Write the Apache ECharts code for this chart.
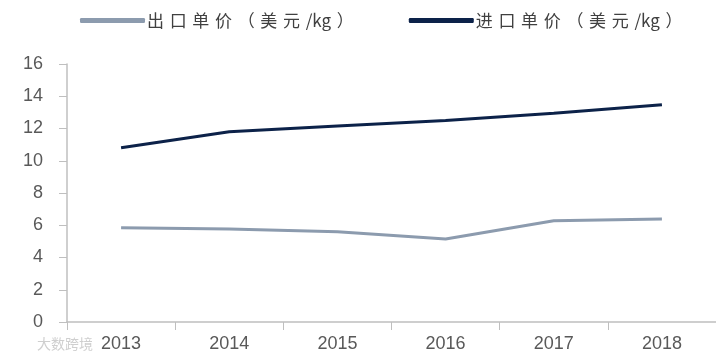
<!DOCTYPE html>
<html>
<head>
<meta charset="utf-8">
<script src="https://cdn.jsdelivr.net/npm/echarts@6/dist/echarts.min.js"></script>
<style>html,body{margin:0;padding:0;background:#fff}#c{width:716px;height:358px}</style>
</head>
<body>
<div id="c"></div>
<script>
var categories = ['2013', '2014', '2015', '2016', '2017', '2018'];
var exportPrice = [5.84, 5.77, 5.6, 5.15, 6.28, 6.38];
var importPrice = [10.8, 11.8, 12.15, 12.5, 12.95, 13.48];
var yTicks = [0, 2, 4, 6, 8, 10, 12, 14, 16];
var seriesNames = ['出口单价（美元/kg）', '进口单价（美元/kg）'];

function spaced(name) {
  var out = '';
  var chars = name.split('');
  for (var i = 0; i < chars.length; i++) {
    out += chars[i];
    var next = chars[i + 1];
    if (next === undefined) break;
    var asciiPair = /[A-Za-z\/]/.test(chars[i]) && /[A-Za-z]/.test(next);
    if (!asciiPair) out += '\u2004';
  }
  return out;
}

var chart = echarts.init(document.getElementById('c'));
chart.setOption({
  animation: false,
  backgroundColor: '#fff',
  legend: {
    top: 7,
    left: 75,
    itemWidth: 65,
    itemHeight: 5,
    itemGap: 55,
    icon: 'roundRect',
    formatter: spaced,
    textStyle: { fontFamily: 'Noto Sans CJK SC', fontSize: 17, color: '#404040', padding: [0, 0, 0, -3] },
    data: seriesNames
  },
  grid: { left: 67, right: -10, top: 64, bottom: 36 },
  xAxis: {
    type: 'category',
    data: categories,
    boundaryGap: true,
    axisLine: { lineStyle: { color: '#bfbfbf', width: 1.5 } },
    axisTick: { show: true, length: 8, lineStyle: { color: '#bfbfbf' } },
    axisLabel: { color: '#595959', fontSize: 18, fontFamily: 'Liberation Sans', margin: 13 }
  },
  yAxis: {
    type: 'value',
    min: yTicks[0],
    max: yTicks[yTicks.length - 1],
    interval: 2,
    splitLine: { show: false },
    axisLine: { show: true, lineStyle: { color: '#bfbfbf', width: 1.5 } },
    axisTick: { show: true, length: 8, lineStyle: { color: '#bfbfbf' } },
    axisLabel: { color: '#595959', fontSize: 18, fontFamily: 'Liberation Sans', margin: 24 }
  },
  graphic: [{
    type: 'text', left: 37, top: 337,
    style: { text: '大数跨境', fill: '#cfcfcf', font: '14px "Noto Sans CJK SC"' }
  }],
  series: [
    {
      name: seriesNames[0], type: 'line', data: exportPrice,
      symbol: 'none', color: '#8c9bae',
      lineStyle: { width: 3, color: '#8c9bae' }
    },
    {
      name: seriesNames[1], type: 'line', data: importPrice,
      symbol: 'none', color: '#0c2249',
      lineStyle: { width: 3, color: '#0c2249' }
    }
  ]
});
</script>
</body>
</html>
